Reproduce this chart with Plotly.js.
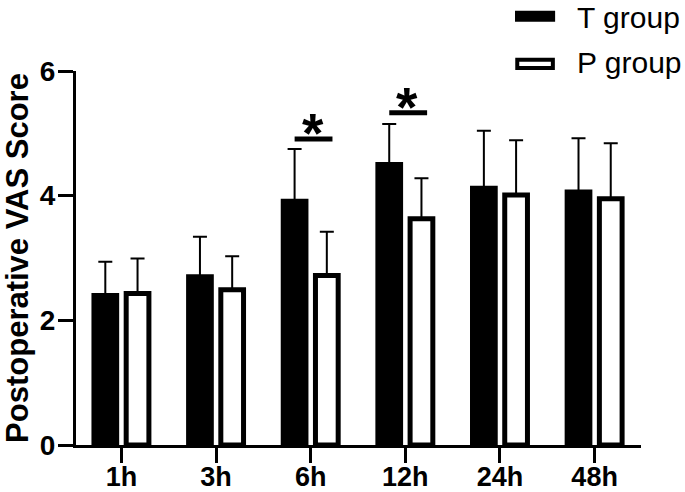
<!DOCTYPE html>
<html>
<head>
<meta charset="utf-8">
<script src="https://cdn.plot.ly/plotly-3.0.1.min.js"></script>
<style>
  html, body { margin: 0; padding: 0; background: #fff; }
  #chart { width: 685px; height: 492px; }
</style>
</head>
<body>
<div id="chart"></div>
<script>
// time points after surgery
var categories = ['1h', '3h', '6h', '12h', '24h', '48h'];

// VAS score, mean and SD
var tMean = [2.40, 2.70, 3.91, 4.50, 4.12, 4.06];
var tSD = [0.54, 0.64, 0.84, 0.65, 0.92, 0.86];
var pMean = [2.43, 2.49, 2.72, 3.63, 4.01, 3.95];
var pSD = [0.56, 0.54, 0.70, 0.65, 0.88, 0.89];

// significance marks
var sigCats = ['6h', '12h'];
var sigLineY = [4.91, 5.33];
var sigStarY = [5.00, 5.43];

var yTicks = [0, 2, 4, 6];

var font = 'Liberation Sans, Arial, sans-serif';

function upOnly(n) {
  var z = [];
  for (var i = 0; i < n; i++) z.push(0);
  return z;
}

var tTrace = {
  x: categories,
  y: tMean,
  type: 'bar',
  name: 'T group',
  showlegend: false,
  marker: { color: '#000', line: { color: '#000', width: 5 } },
  error_y: {
    type: 'data', symmetric: false,
    array: tSD, arrayminus: upOnly(tSD.length),
    color: '#000', thickness: 2, width: 7
  }
};

var pTrace = {
  x: categories,
  y: pMean,
  type: 'bar',
  name: 'P group',
  showlegend: false,
  marker: { color: '#fff', line: { color: '#000', width: 5 } },
  error_y: {
    type: 'data', symmetric: false,
    array: pSD, arrayminus: upOnly(pSD.length),
    color: '#000', thickness: 2, width: 7
  }
};

var shapes = [];
var annotations = [];

sigCats.forEach(function (c, i) {
  var k = categories.indexOf(c);
  shapes.push({
    type: 'line', xref: 'x', yref: 'y',
    x0: k - 0.17, x1: k + 0.23, y0: sigLineY[i], y1: sigLineY[i],
    line: { color: '#000', width: 5 }
  });
  annotations.push({
    x: k + 0.02, y: sigStarY[i], xref: 'x', yref: 'y',
    text: '<b>*</b>', showarrow: false,
    xanchor: 'center', yanchor: 'middle',
    font: { family: font, size: 55, color: '#000' }
  });
});

// legend drawn by hand so the keys are wide boxes like the original
shapes.push({
  type: 'rect', xref: 'paper', yref: 'paper',
  x0: 0.777, x1: 0.848, y0: 1.132, y1: 1.161,
  fillcolor: '#000', line: { width: 0 }
});
shapes.push({
  type: 'rect', xref: 'paper', yref: 'paper',
  x0: 0.781, x1: 0.844, y0: 1.008, y1: 1.030,
  fillcolor: '#fff', line: { color: '#000', width: 4 }
});
annotations.push({
  x: 0.883, y: 1.144, xref: 'paper', yref: 'paper',
  text: 'T group', showarrow: false, xanchor: 'left', yanchor: 'middle',
  font: { family: font, size: 30, color: '#000' }
});
annotations.push({
  x: 0.883, y: 1.022, xref: 'paper', yref: 'paper',
  text: 'P group', showarrow: false, xanchor: 'left', yanchor: 'middle',
  font: { family: font, size: 30, color: '#000' }
});

var layout = {
  width: 685,
  height: 492,
  margin: { l: 76, r: 44, t: 71, b: 47 },
  paper_bgcolor: '#fff',
  plot_bgcolor: '#fff',
  barmode: 'group',
  bargap: 0.319,
  bargroupgap: 0.295,
  showlegend: false,
  xaxis: {
    range: [-0.48, 5.49],
    showgrid: false, zeroline: false,
    showline: true, linecolor: '#000', linewidth: 3,
    ticks: 'outside', ticklen: 15, tickwidth: 3, tickcolor: '#000',
    ticklabelstandoff: -9,
    tickfont: { family: font, size: 27, color: '#000', weight: 'bold' }
  },
  yaxis: {
    range: [0, 6],
    tickvals: yTicks,
    showgrid: false, zeroline: false,
    showline: true, linecolor: '#000', linewidth: 3,
    ticks: 'outside', ticklen: 15, tickwidth: 3, tickcolor: '#000',
    ticklabelstandoff: -3,
    tickfont: { family: font, size: 28, color: '#000', weight: 'bold' },
    title: {
      text: '<b>Postoperative VAS Score</b>',
      font: { family: font, size: 31, color: '#000' },
      standoff: 5
    }
  },
  shapes: shapes,
  annotations: annotations
};

Plotly.newPlot('chart', [tTrace, pTrace], layout, { displayModeBar: false });
</script>
</body>
</html>
